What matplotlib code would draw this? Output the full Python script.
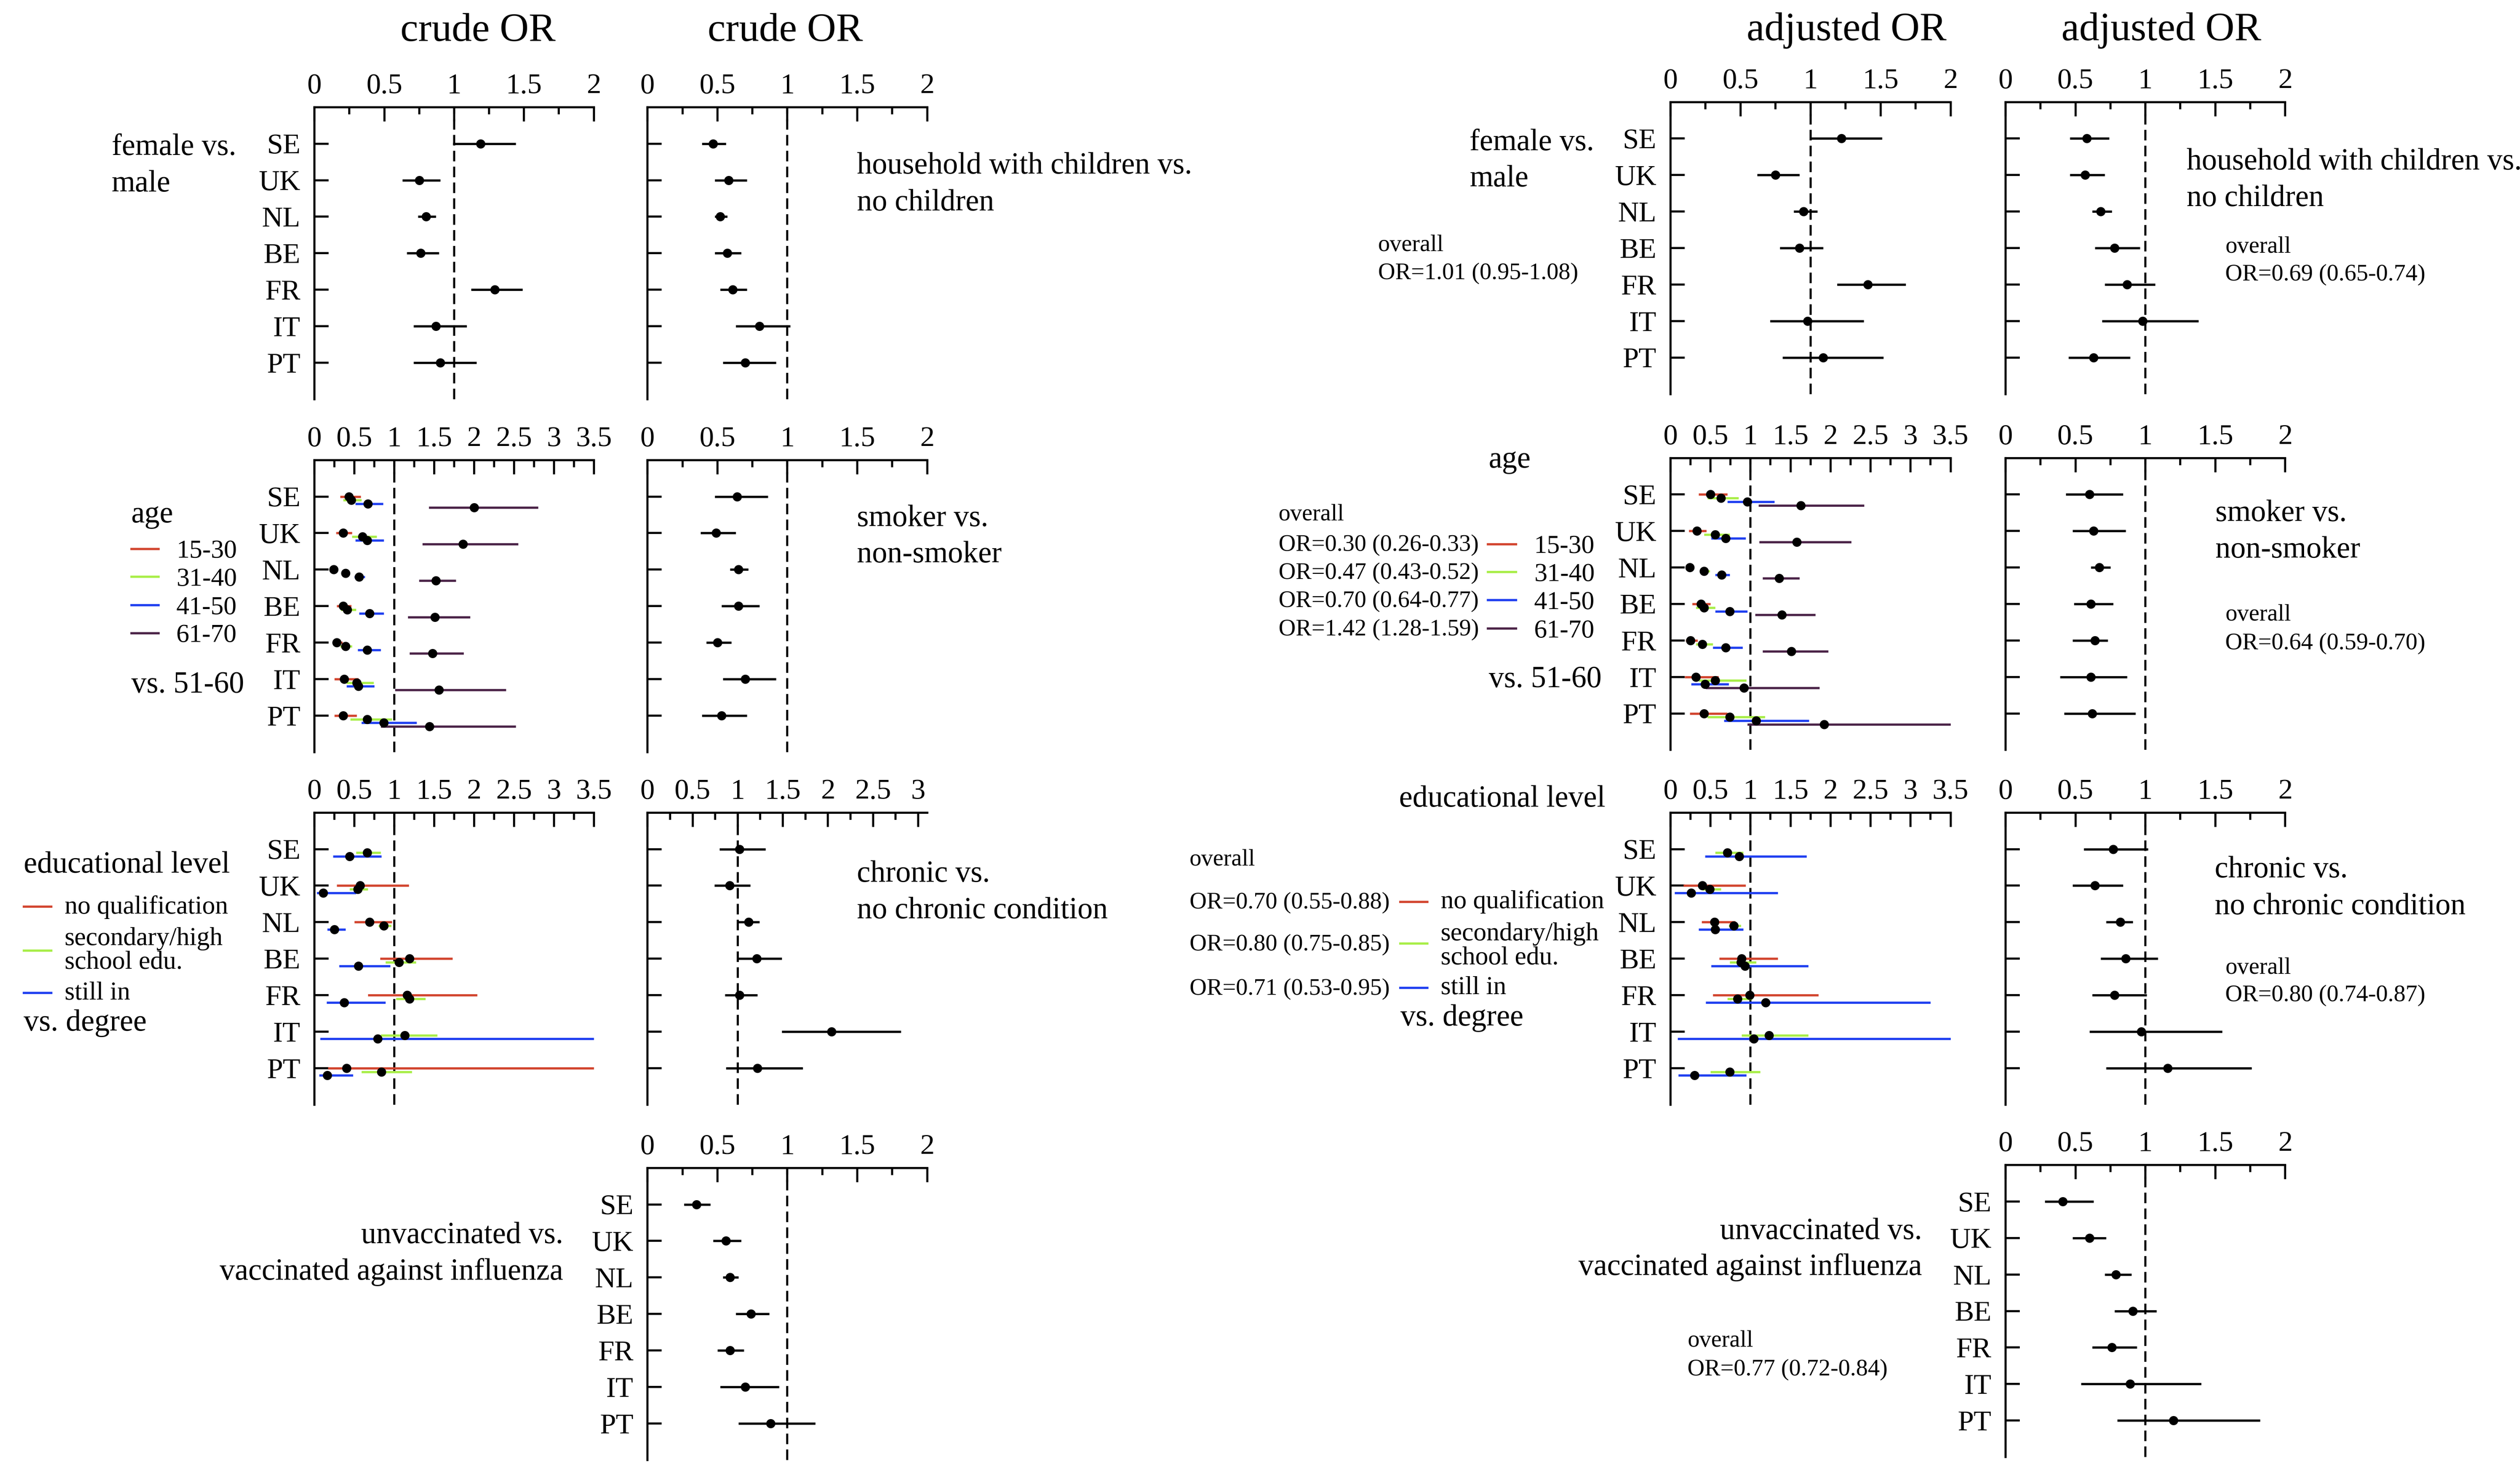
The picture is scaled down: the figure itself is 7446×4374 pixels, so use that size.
import numpy as np
import matplotlib
matplotlib.use("Agg")
import matplotlib.pyplot as plt
from matplotlib.lines import Line2D

plt.rcParams["font.family"] = ["Liberation Serif", "DejaVu Serif"]

countries = ["SE", "UK", "NL", "BE", "FR", "IT", "PT"]
age_groups = ["15-30", "31-40", "41-50", "61-70"]
edu_groups = ["no qualification", "secondary/high", "still in"]
group_colors = ["#d2452f", "#a8ee48", "#1f3ff0", "#4b2448"]
nan = np.nan

# crude OR -------------------------------------------------------------
crude_sex_or = [1.19, 0.75, 0.80, 0.76, 1.29, 0.87, 0.90]
crude_sex_lo = [0.99, 0.63, 0.74, 0.66, 1.12, 0.71, 0.71]
crude_sex_hi = [1.44, 0.90, 0.87, 0.89, 1.49, 1.09, 1.16]

crude_child_or = [0.47, 0.58, 0.52, 0.57, 0.61, 0.80, 0.70]
crude_child_lo = [0.39, 0.48, 0.48, 0.48, 0.52, 0.63, 0.54]
crude_child_hi = [0.56, 0.71, 0.57, 0.67, 0.71, 1.02, 0.92]

crude_age_or = [[0.43, 0.36, 0.24, 0.36, 0.28, 0.37, 0.36],
                [0.46, 0.60, 0.39, 0.41, 0.39, 0.53, 0.66],
                [0.67, 0.66, 0.56, 0.69, 0.66, 0.55, 0.87],
                [2.00, 1.86, 1.52, 1.51, 1.48, 1.56, 1.44]]
crude_age_lo = [[0.32, 0.27, 0.19, 0.28, 0.23, 0.25, 0.25],
                [0.36, 0.47, 0.36, 0.33, 0.32, 0.40, 0.45],
                [0.51, 0.51, 0.50, 0.56, 0.54, 0.40, 0.59],
                [1.43, 1.35, 1.31, 1.17, 1.19, 1.01, 0.83]]
crude_age_hi = [[0.58, 0.47, 0.28, 0.46, 0.35, 0.55, 0.53],
                [0.59, 0.78, 0.42, 0.52, 0.47, 0.74, 0.97],
                [0.86, 0.87, 0.63, 0.87, 0.83, 0.75, 1.28],
                [2.80, 2.55, 1.77, 1.95, 1.87, 2.40, 2.52]]

crude_smoke_or = [0.64, 0.49, 0.65, 0.65, 0.50, 0.70, 0.53]
crude_smoke_lo = [0.48, 0.38, 0.59, 0.53, 0.42, 0.54, 0.39]
crude_smoke_hi = [0.86, 0.63, 0.72, 0.80, 0.60, 0.92, 0.71]

crude_edu_or = [[nan, 0.57, 0.69, 1.19, 1.16, nan, 0.40],
                [0.66, 0.54, 0.87, 1.06, 1.19, 1.13, 0.84],
                [0.44, 0.11, 0.25, 0.55, 0.37, 0.79, 0.16]]
crude_edu_lo = [[nan, 0.28, 0.50, 0.82, 0.67, nan, 0.17],
                [0.52, 0.44, 0.80, 0.89, 1.02, 0.83, 0.59],
                [0.23, 0.03, 0.16, 0.31, 0.15, 0.07, 0.06]]
crude_edu_hi = [[nan, 1.18, 0.97, 1.73, 2.04, nan, 4.50],
                [0.83, 0.67, 0.96, 1.27, 1.39, 1.54, 1.22],
                [0.84, 0.52, 0.39, 0.95, 0.89, 4.50, 0.48]]

crude_chron_or = [1.02, 0.91, 1.12, 1.21, 1.02, 2.04, 1.22]
crude_chron_lo = [0.80, 0.74, 1.00, 1.00, 0.86, 1.49, 0.87]
crude_chron_hi = [1.31, 1.14, 1.24, 1.49, 1.22, 2.81, 1.72]

crude_vacc_or = [0.35, 0.56, 0.59, 0.74, 0.59, 0.70, 0.88]
crude_vacc_lo = [0.26, 0.47, 0.54, 0.63, 0.50, 0.52, 0.65]
crude_vacc_hi = [0.45, 0.67, 0.65, 0.87, 0.69, 0.94, 1.20]

# adjusted OR ----------------------------------------------------------
adj_sex_or = [1.22, 0.75, 0.95, 0.92, 1.41, 0.98, 1.09]
adj_sex_lo = [1.00, 0.62, 0.88, 0.78, 1.19, 0.71, 0.80]
adj_sex_hi = [1.51, 0.92, 1.05, 1.09, 1.68, 1.38, 1.52]

adj_child_or = [0.58, 0.57, 0.68, 0.78, 0.87, 0.98, 0.63]
adj_child_lo = [0.46, 0.46, 0.62, 0.64, 0.71, 0.69, 0.45]
adj_child_hi = [0.74, 0.71, 0.76, 0.96, 1.07, 1.38, 0.89]

adj_age_or = [[0.50, 0.33, 0.24, 0.38, 0.25, 0.32, 0.42],
              [0.63, 0.56, 0.42, 0.42, 0.40, 0.56, 0.74],
              [0.96, 0.69, 0.64, 0.74, 0.69, 0.43, 1.07],
              [1.63, 1.58, 1.36, 1.39, 1.51, 0.92, 1.92]]
adj_age_lo = [[0.35, 0.23, 0.22, 0.27, 0.19, 0.18, 0.24],
              [0.46, 0.42, 0.37, 0.32, 0.32, 0.35, 0.46],
              [0.71, 0.51, 0.56, 0.56, 0.53, 0.26, 0.67],
              [1.10, 1.11, 1.15, 1.06, 1.15, 0.44, 0.96]]
adj_age_hi = [[0.71, 0.45, 0.26, 0.50, 0.34, 0.60, 0.71],
              [0.85, 0.74, 0.49, 0.56, 0.53, 0.95, 1.18],
              [1.30, 0.94, 0.74, 0.96, 0.90, 0.73, 1.73],
              [2.42, 2.26, 1.61, 1.81, 1.97, 1.86, 4.20]]

adj_smoke_or = [0.60, 0.63, 0.67, 0.61, 0.64, 0.61, 0.62]
adj_smoke_lo = [0.43, 0.48, 0.61, 0.49, 0.48, 0.39, 0.42]
adj_smoke_hi = [0.84, 0.86, 0.75, 0.77, 0.73, 0.87, 0.93]

adj_edu_or = [[nan, 0.40, 0.55, 0.89, 0.99, nan, nan],
              [0.71, 0.49, 0.79, 0.88, 0.84, 1.23, 0.74],
              [0.86, 0.26, 0.56, 0.93, 1.19, 1.04, 0.30]]
adj_edu_lo = [[nan, 0.16, 0.39, 0.61, 0.53, nan, nan],
              [0.56, 0.40, 0.73, 0.74, 0.71, 0.89, 0.50],
              [0.43, 0.05, 0.35, 0.51, 0.44, 0.09, 0.10]]
adj_edu_hi = [[nan, 0.94, 0.81, 1.34, 1.85, nan, nan],
              [0.91, 0.63, 0.88, 1.07, 1.02, 1.72, 1.12],
              [1.70, 1.34, 0.91, 1.72, 3.25, 4.20, 0.95]]

adj_chron_or = [0.77, 0.64, 0.82, 0.86, 0.78, 0.97, 1.16]
adj_chron_lo = [0.56, 0.48, 0.72, 0.68, 0.62, 0.60, 0.72]
adj_chron_hi = [1.02, 0.84, 0.91, 1.09, 1.01, 1.55, 1.76]

adj_vacc_or = [0.41, 0.60, 0.79, 0.91, 0.76, 0.89, 1.20]
adj_vacc_lo = [0.28, 0.48, 0.71, 0.78, 0.62, 0.54, 0.80]
adj_vacc_hi = [0.63, 0.72, 0.90, 1.08, 0.94, 1.40, 1.82]

overall_sex = "OR=1.01 (0.95-1.08)"
overall_child = "OR=0.69 (0.65-0.74)"
overall_smoke = "OR=0.64 (0.59-0.70)"
overall_chron = "OR=0.80 (0.74-0.87)"
overall_vacc = "OR=0.77 (0.72-0.84)"
overall_age = ["OR=0.30 (0.26-0.33)", "OR=0.47 (0.43-0.52)",
               "OR=0.70 (0.64-0.77)", "OR=1.42 (1.28-1.59)"]
overall_edu = ["OR=0.70 (0.55-0.88)", "OR=0.80 (0.75-0.85)",
               "OR=0.71 (0.53-0.95)"]

# layout in reference-thumbnail units (1568 x 921)
W, H = 1568.0, 921.0
fig = plt.figure(figsize=(24.82, 14.58), dpi=300)

LW = 1.5
CI_LW = 1.6
TICK_FS = 20.5
LAB_FS = 21.5
LEG_FS = 18.4
OR_FS = 16.8


def new_axes(x0, x1, top, xmax, names):
    ax = fig.add_axes([x0 / W, 1 - (top + 181.7) / H, (x1 - x0) / W, 181.7 / H])
    ax.set_xlim(0, xmax)
    ax.set_ylim(8, 0)
    for s in ["right", "bottom"]:
        ax.spines[s].set_visible(False)
    for s in ["left", "top"]:
        ax.spines[s].set_linewidth(LW)
    majors = np.arange(0, xmax + 1e-9, 0.5)
    minors = np.arange(0.25, xmax + 1e-9, 0.5)
    ax.set_xticks(majors)
    ax.set_xticklabels([f"{v:g}" for v in majors])
    ax.set_xticks(minors, minor=True)
    ax.xaxis.tick_top()
    ax.tick_params(axis="x", which="major", direction="in", length=10, width=LW,
                   pad=5.5, labelsize=TICK_FS)
    ax.tick_params(axis="x", which="minor", direction="in", length=5, width=LW)
    ax.set_yticks(range(1, 8))
    ax.set_yticklabels(countries if names else [])
    ax.tick_params(axis="y", direction="in", length=10, width=LW, pad=10,
                   labelsize=TICK_FS, right=False)
    ax.axvline(1, color="black", lw=LW, ls=(0, (5, 2.5)), zorder=1)
    return ax


def single(ax, ors, lo, hi):
    y = np.arange(1, 8)
    ax.hlines(y, lo, hi, color="black", lw=CI_LW, zorder=2)
    ax.plot(ors, y, "o", color="black", ms=5.5, zorder=3)


def multi(ax, ors, lo, hi):
    y = np.arange(1, 8)
    for k in range(len(ors)):
        ax.hlines(y + 0.1 * k, lo[k], hi[k], color=group_colors[k], lw=CI_LW, zorder=2)
    for k in range(len(ors)):
        ax.plot(ors[k], y + 0.1 * k, "o", color="black", ms=5.5, zorder=3)


def txt(x, y, s, size=LAB_FS, ha="left"):
    fig.text(x / W, 1 - y / H, s, fontsize=size, ha=ha, va="baseline")


def seg(x0, x1, y, color):
    fig.add_artist(Line2D([x0 / W, x1 / W], [1 - y / H] * 2, color=color, lw=CI_LW,
                          transform=fig.transFigure))


C1 = (195.7, 369.5)
C2 = (402.9, 576.9)
C3 = (1039.4, 1213.7)
C4 = (1247.9, 1421.9)
crude_tops = [66.7, 286.3, 505.7, 726.8]
adj_tops = [63.5, 285.0, 505.7, 725.0]

# titles
fig.text(297.3 / W, 1 - 25.5 / H, "crude OR", fontsize=28.5, ha="center", va="baseline")
fig.text(488.5 / W, 1 - 25.5 / H, "crude OR", fontsize=28.5, ha="center", va="baseline")
fig.text(1148.9 / W, 1 - 25.0 / H, "adjusted OR", fontsize=28.5, ha="center", va="baseline")
fig.text(1344.8 / W, 1 - 25.0 / H, "adjusted OR", fontsize=28.5, ha="center", va="baseline")

# crude panels
single(new_axes(*C1, crude_tops[0], 2, True), crude_sex_or, crude_sex_lo, crude_sex_hi)
single(new_axes(*C2, crude_tops[0], 2, False), crude_child_or, crude_child_lo, crude_child_hi)
multi(new_axes(*C1, crude_tops[1], 3.5, True), crude_age_or, crude_age_lo, crude_age_hi)
single(new_axes(*C2, crude_tops[1], 2, False), crude_smoke_or, crude_smoke_lo, crude_smoke_hi)
multi(new_axes(*C1, crude_tops[2], 3.5, True), crude_edu_or, crude_edu_lo, crude_edu_hi)
single(new_axes(*C2, crude_tops[2], 3.1, False), crude_chron_or, crude_chron_lo, crude_chron_hi)
single(new_axes(*C2, crude_tops[3], 2, True), crude_vacc_or, crude_vacc_lo, crude_vacc_hi)

# adjusted panels
single(new_axes(*C3, adj_tops[0], 2, True), adj_sex_or, adj_sex_lo, adj_sex_hi)
single(new_axes(*C4, adj_tops[0], 2, False), adj_child_or, adj_child_lo, adj_child_hi)
multi(new_axes(*C3, adj_tops[1], 3.5, True), adj_age_or, adj_age_lo, adj_age_hi)
single(new_axes(*C4, adj_tops[1], 2, False), adj_smoke_or, adj_smoke_lo, adj_smoke_hi)
multi(new_axes(*C3, adj_tops[2], 3.5, True), adj_edu_or, adj_edu_lo, adj_edu_hi)
single(new_axes(*C4, adj_tops[2], 2, False), adj_chron_or, adj_chron_lo, adj_chron_hi)
single(new_axes(*C4, adj_tops[3], 2, True), adj_vacc_or, adj_vacc_lo, adj_vacc_hi)

# crude annotations
txt(69.4, 96.5, "female vs.")
txt(69.4, 119.2, "male")
txt(533.2, 108.1, "household with children vs.")
txt(533.2, 130.9, "no children")
txt(81.7, 325.2, "age")
for k, (yy, lab) in enumerate(zip([341.5, 358.9, 376.5, 393.9], age_groups)):
    seg(81.7, 98.5, yy, group_colors[k])
    txt(109.7, yy + 5.6, lab, size=LEG_FS)
txt(81.7, 431.0, "vs. 51-60")
txt(533.2, 327.4, "smoker vs.")
txt(533.2, 350.0, "non-smoker")
txt(14.8, 543.0, "educational level")
for k, yy in enumerate([564.2, 591.5, 617.7]):
    seg(14.8, 31.9, yy, group_colors[k])
txt(40.3, 568.5, edu_groups[0], size=LEG_FS)
txt(40.3, 588.1, edu_groups[1], size=LEG_FS)
txt(40.3, 602.9, "school edu.", size=LEG_FS)
txt(40.3, 622.1, edu_groups[2], size=LEG_FS)
txt(14.8, 641.3, "vs. degree")
txt(533.2, 548.7, "chronic vs.")
txt(533.2, 571.4, "no chronic condition")
txt(350.5, 773.7, "unvaccinated vs.", ha="right")
txt(350.5, 796.4, "vaccinated against influenza", ha="right")

# adjusted annotations
txt(914.3, 93.4, "female vs.")
txt(914.3, 116.1, "male")
txt(857.4, 156.3, "overall", size=OR_FS)
txt(857.4, 173.7, overall_sex, size=OR_FS)
txt(1360.5, 105.5, "household with children vs.")
txt(1360.5, 128.2, "no children")
txt(1384.6, 157.2, "overall", size=OR_FS)
txt(1384.6, 174.5, overall_child, size=OR_FS)

txt(926.3, 291.0, "age")
txt(795.5, 323.9, "overall", size=OR_FS)
for k, yy in enumerate([338.5, 355.9, 373.4, 391.1]):
    txt(795.5, yy + 4.3, overall_age[k], size=OR_FS)
    seg(925.7, 943.2, yy, group_colors[k])
    txt(954.5, yy + 5.6, age_groups[k], size=LEG_FS)
txt(926.3, 427.6, "vs. 51-60")
txt(1378.5, 324.2, "smoker vs.")
txt(1378.5, 347.1, "non-smoker")
txt(1384.6, 386.2, "overall", size=OR_FS)
txt(1384.6, 404.0, overall_smoke, size=OR_FS)

txt(870.6, 502.0, "educational level")
txt(740.1, 538.6, "overall", size=OR_FS)
for k, yy in enumerate([561.1, 587.1, 614.7]):
    txt(740.1, yy + 4.3, overall_edu[k], size=OR_FS)
    seg(871.2, 888.0, yy, group_colors[k])
txt(896.4, 565.2, edu_groups[0], size=LEG_FS)
txt(896.4, 585.2, edu_groups[1], size=LEG_FS)
txt(896.4, 600.0, "school edu.", size=LEG_FS)
txt(896.4, 618.7, edu_groups[2], size=LEG_FS)
txt(871.3, 638.3, "vs. degree")
txt(1378.0, 546.0, "chronic vs.")
txt(1378.0, 569.0, "no chronic condition")
txt(1384.6, 606.0, "overall", size=OR_FS)
txt(1384.6, 623.0, overall_chron, size=OR_FS)
txt(1196.0, 771.0, "unvaccinated vs.", ha="right")
txt(1196.0, 793.5, "vaccinated against influenza", ha="right")
txt(1050.0, 838.0, "overall", size=OR_FS)
txt(1050.0, 856.0, overall_vacc, size=OR_FS)

fig.savefig("out.png", dpi=300, facecolor="white")
